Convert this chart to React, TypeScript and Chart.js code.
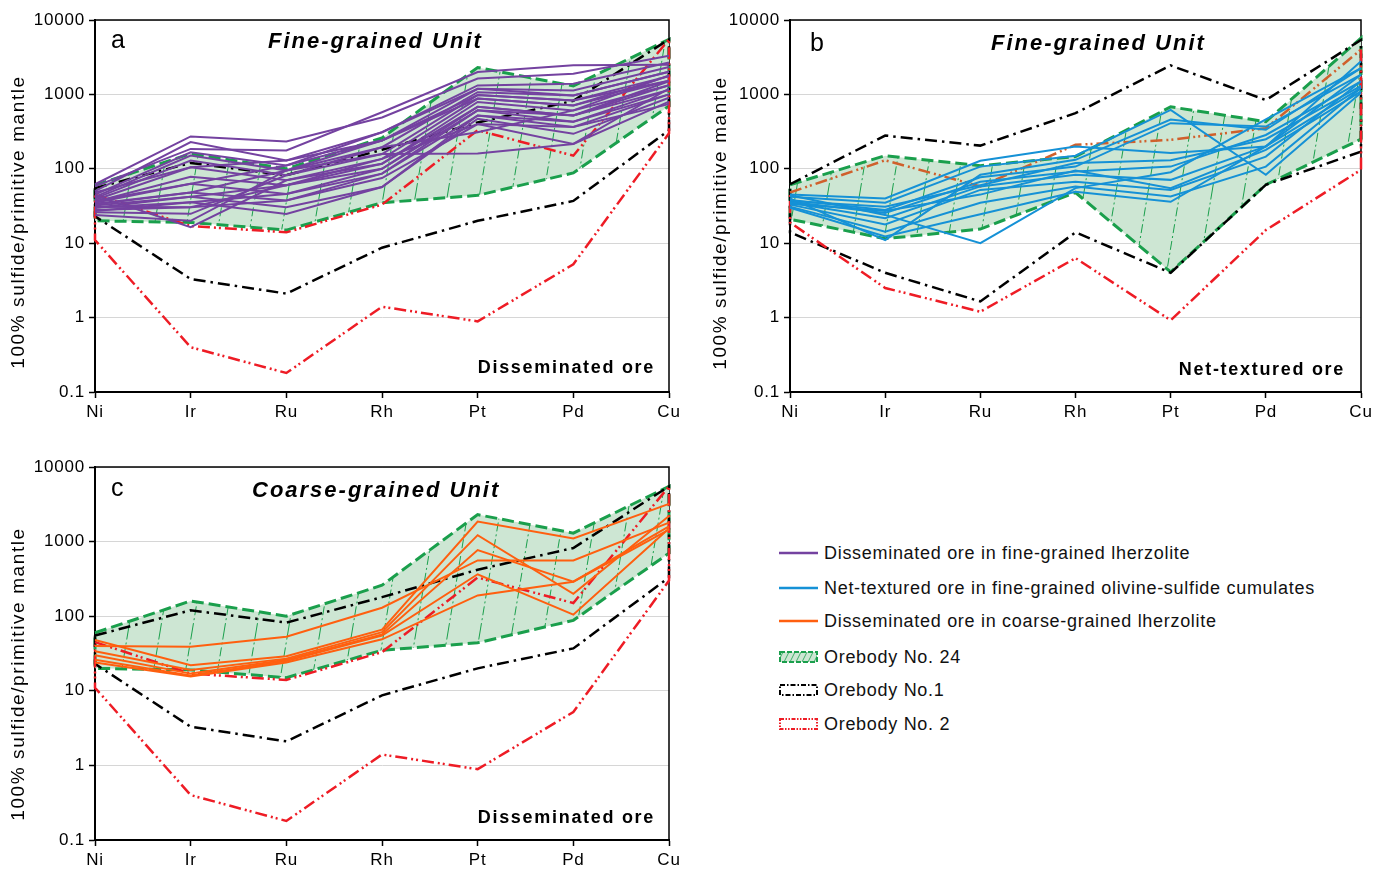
import React, { useEffect, useRef } from 'react';
import { Chart, registerables } from 'chart.js';

Chart.register(...registerables);

// ---------- data ----------
const elements = ['Ni', 'Ir', 'Ru', 'Rh', 'Pt', 'Pd', 'Cu'];
const yTickValues = [0.1, 1, 10, 100, 1000, 10000];
const yTickLabels = ['0.1', '1', '10', '100', '1000', '10000'];
const yAxisTitle = '100% sulfide/primitive mantle';

// Orebody fields used in panels a and c
const ob24Upper = [60, 160, 100, 260, 2300, 1300, 5500];
const ob24Lower = [20, 19, 15, 35, 44, 88, 700];
const ob1Upper = [55, 120, 82, 180, 420, 820, 5500];
const ob1Lower = [23, 3.3, 2.1, 8.7, 20, 37, 330];
const ob2Upper = [45, 17, 14, 33, 330, 150, 5500];
const ob2Lower = [11, 0.4, 0.18, 1.4, 0.89, 5.2, 300];

// Orebody fields used in panel b (net-textured ore)
const ob24NetUpper = [61, 150, 110, 146, 680, 430, 5700];
const ob24NetLower = [21, 11.5, 15.5, 48, 4.1, 61, 250];
const ob1NetUpper = [62, 280, 205, 560, 2450, 840, 5400];
const ob1NetLower = [14, 4.0, 1.65, 14, 4.0, 61, 170];
const ob2NetUpper = [48, 130, 58, 210, 245, 350, 4000];
const ob2NetLower = [19, 2.5, 1.2, 6.3, 0.92, 15, 97];

// Samples: disseminated ore in fine-grained lherzolite (panel a)
const fineDisseminated: number[][] = [
  [58, 185, 176, 575, 2000, 2460, 2500],
  [62, 272, 233, 490, 1630, 1900, 3300],
  [50, 229, 129, 310, 1320, 1390, 2680],
  [45, 167, 111, 240, 1190, 1130, 2330],
  [42, 151, 95, 195, 1070, 965, 2020],
  [40, 129, 82, 158, 980, 830, 1760],
  [38, 105, 70, 136, 880, 710, 1530],
  [36, 78, 60, 117, 790, 610, 1330],
  [35, 63, 46, 100, 680, 520, 1150],
  [33, 48, 37.5, 86, 610, 430, 1000],
  [32, 42, 30.5, 57, 520, 365, 740],
  [30, 35.5, 24.7, 57, 470, 295, 900],
  [28, 30.5, 60, 136, 400, 216, 1200],
  [26, 24.8, 82, 195, 310, 610, 1800],
  [24, 20, 95, 158, 160, 216, 800],
  [44, 16.4, 70, 117, 680, 520, 1500],
  [37, 63, 111, 310, 1190, 965, 2020],
  [34, 48, 95, 240, 880, 710, 1760],
  [30, 42, 60, 100, 610, 520, 1330],
  [27, 35.5, 46, 86, 520, 430, 1150],
  [48, 105, 129, 240, 980, 830, 1530],
  [31, 30.5, 37.5, 75, 400, 365, 1000],
];

// Samples: net-textured ore in fine-grained olivine-sulfide cumulates (panel b)
const netTextured: number[][] = [
  [45, 40, 128, 200, 163, 200, 2800],
  [42, 35, 107, 150, 620, 83, 1050],
  [40, 11, 83, 132, 460, 335, 2260],
  [38, 28, 77, 107, 410, 370, 1840],
  [36, 25.5, 67, 92, 107, 285, 1500],
  [35, 21.7, 58, 83, 71, 200, 1220],
  [33, 17.9, 52, 67, 52, 146, 1500],
  [31, 14.3, 35, 58, 42.5, 107, 1220],
  [30, 12.3, 24.5, 49, 36, 200, 1840],
  [44, 24, 10, 55, 90, 460, 2260],
  [37, 31, 60, 120, 130, 250, 1300],
  [34, 27, 45, 95, 55, 180, 1100],
];

// Samples: disseminated ore in coarse-grained lherzolite (panel c)
const coarseDisseminated: number[][] = [
  [40, 39, 53, 130, 560, 560, 1800],
  [48, 22, 29, 66, 1860, 1100, 3200],
  [34, 19, 27, 61, 1220, 200, 2200],
  [30, 17, 26, 57, 770, 290, 1600],
  [26, 16, 25, 55, 365, 105, 1500],
  [24, 15.5, 24, 49, 190, 290, 1450],
];

// ---------- styles ----------
const FONT = "'Liberation Sans', Arial, sans-serif";
const PURPLE = '#7442a0';
const BLUE = '#1591d6';
const ORANGE = '#ff5f0f';
const GREEN = '#1a9f4c';
const RED = '#ee1c25';
const BROWN = '#d0602c';
const FILL = '#cde6d3';

function makeHatch(): CanvasPattern | string {
  const c = document.createElement('canvas');
  c.width = 32;
  c.height = 192;
  const g = c.getContext('2d');
  if (!g) return FILL;
  g.fillStyle = FILL;
  g.fillRect(0, 0, 32, 192);
  g.strokeStyle = GREEN;
  g.lineWidth = 1;
  g.setLineDash([9, 3, 2, 3]);
  for (const off of [-32, 0, 32]) {
    g.beginPath();
    g.moveTo(off, 192);
    g.lineTo(off + 32, 0);
    g.stroke();
  }
  return g.createPattern(c, 'repeat') || FILL;
}

type Env = {
  u24: number[]; l24: number[];
  u1: number[]; l1: number[];
  u2: number[]; l2: number[];
};

type PanelProps = {
  left: number; top: number; width: number; height: number;
  area: { l: number; t: number; r: number; b: number };
  samples: number[][];
  sampleLabel: string;
  color: string;
  env: Env;
  ob2UpperColor: string;
  letter: string; letterPos: [number, number];
  title: string; titlePos: [number, number];
  note: string; notePos: [number, number];
  yTitlePos: [number, number];
};

const poly = (u: number[], l: number[]) => [
  ...u.map((y, i) => ({ x: elements[i], y })),
  ...l.map((y, i) => ({ x: elements[i], y })).reverse(),
  { x: elements[0], y: u[0] },
];

function drawSpaced(ctx: CanvasRenderingContext2D, text: string, x: number, y: number, font: string, align: CanvasTextAlign, spacing: number, rotate = 0) {
  ctx.save();
  ctx.font = font;
  (ctx as any).letterSpacing = spacing + 'px';
  ctx.fillStyle = '#000';
  ctx.textAlign = align;
  ctx.textBaseline = 'middle';
  ctx.translate(x, y);
  if (rotate) ctx.rotate(rotate);
  ctx.fillText(text, 0, 0);
  ctx.restore();
}

function Panel(p: PanelProps) {
  const ref = useRef<HTMLCanvasElement>(null);
  useEffect(() => {
    if (!ref.current) return;
    const pattern = makeHatch();
    const padTop = p.area.t - p.top;
    const padRight = p.left + p.width - p.area.r;
    const yW = p.area.l - p.left;
    const xH = p.top + p.height - p.area.b;
    const ox = p.left;
    const oy = p.top;

    const base: any = {
      pointRadius: 0, pointHoverRadius: 0, tension: 0, clip: 8, fill: false,
      borderCapStyle: 'butt', borderJoinStyle: 'miter',
    };

    const datasets: any[] = [
      { ...base, label: 'field fill', data: p.env.u24, borderWidth: 0, borderColor: 'rgba(0,0,0,0)', backgroundColor: pattern, fill: '+1', order: 6 },
      { ...base, label: 'field fill lower', data: p.env.l24, borderWidth: 0, borderColor: 'rgba(0,0,0,0)', order: 6 },
      { ...base, label: 'Orebody No. 24', data: poly(p.env.u24, p.env.l24), borderColor: GREEN, borderWidth: 3, borderDash: [12, 5], order: 5 },
      { ...base, label: 'Orebody No.1', data: poly(p.env.u1, p.env.l1), borderColor: '#000', borderWidth: 2.5, borderDash: [12, 5, 2.5, 5], order: 4 },
      {
        ...base, label: 'Orebody No. 2', data: poly(p.env.u2, p.env.l2), borderColor: RED, borderWidth: 2.5,
        borderDash: [12, 4, 2, 3, 2, 4], order: 3,
        segment: { borderColor: (c: any) => (c.p0DataIndex < 6 ? p.ob2UpperColor : RED) },
      },
      ...p.samples.map((s, i) => ({ ...base, label: p.sampleLabel + ' ' + (i + 1), data: s, borderColor: p.color, borderWidth: 2, order: 1 })),
    ];

    const decor = {
      id: 'decor',
      beforeDraw(chart: any) {
        chart.ctx.letterSpacing = '0.8px';
      },
      beforeDatasetsDraw(chart: any) {
        const { ctx, chartArea: a } = chart;
        ctx.save();
        ctx.strokeStyle = '#000';
        ctx.lineWidth = 1.5;
        ctx.beginPath();
        ctx.moveTo(a.left, a.top);
        ctx.lineTo(a.right, a.top);
        ctx.lineTo(a.right, a.bottom);
        ctx.stroke();
        ctx.restore();
      },
      afterDraw(chart: any) {
        const ctx = chart.ctx;
        drawSpaced(ctx, p.letter, p.letterPos[0] - ox, p.letterPos[1] - oy, `25px ${FONT}`, 'left', 0);
        drawSpaced(ctx, p.title, p.titlePos[0] - ox, p.titlePos[1] - oy, `italic bold 22px ${FONT}`, 'left', 2.0);
        drawSpaced(ctx, p.note, p.notePos[0] - ox, p.notePos[1] - oy, `bold 18px ${FONT}`, 'right', 1.7);
        drawSpaced(ctx, yAxisTitle, p.yTitlePos[0] - ox, p.yTitlePos[1] - oy, `19px ${FONT}`, 'center', 1.6, -Math.PI / 2);
      },
    };

    const chart = new Chart(ref.current, {
      type: 'line',
      data: { labels: elements, datasets },
      options: {
        animation: false,
        responsive: false,
        maintainAspectRatio: false,
        events: [],
        layout: { padding: { top: padTop, right: padRight, left: 0, bottom: 0 } },
        plugins: { legend: { display: false }, tooltip: { enabled: false }, title: { display: false } },
        scales: {
          x: {
            type: 'category',
            offset: false,
            grid: { display: true, drawOnChartArea: false, drawTicks: true, tickLength: 6, tickColor: '#000', tickWidth: 1.5 },
            border: { display: true, color: '#000', width: 2 },
            ticks: { color: '#000', font: { family: FONT, size: 17 }, padding: 4, maxRotation: 0, autoSkip: false },
            afterFit: (s: any) => { s.height = xH; },
          },
          y: {
            type: 'logarithmic',
            min: 0.1,
            max: 10000,
            afterBuildTicks: (s: any) => { s.ticks = yTickValues.map((v) => ({ value: v })); },
            grid: { color: '#d6d6d6', lineWidth: 1, tickColor: '#000', tickLength: 6, tickWidth: 1.5 },
            border: { display: true, color: '#000', width: 2 },
            ticks: {
              color: '#000', font: { family: FONT, size: 17 }, padding: 4, autoSkip: false,
              callback: (_v: any, i: number) => yTickLabels[i],
            },
            afterFit: (s: any) => { s.width = yW; },
          },
        },
      } as any,
      plugins: [decor],
    });
    return () => chart.destroy();
  }, []);
  return (
    <canvas
      ref={ref}
      width={p.width}
      height={p.height}
      style={{ position: 'absolute', left: p.left, top: p.top, width: p.width, height: p.height }}
    />
  );
}

const legendItems = [
  { label: 'Disseminated ore in fine-grained lherzolite', kind: 'line', color: PURPLE },
  { label: 'Net-textured ore in fine-grained olivine-sulfide cumulates', kind: 'line', color: BLUE },
  { label: 'Disseminated ore in coarse-grained lherzolite', kind: 'line', color: ORANGE },
  { label: 'Orebody No. 24', kind: 'ob24', color: GREEN },
  { label: 'Orebody No.1', kind: 'ob1', color: '#000' },
  { label: 'Orebody No. 2', kind: 'ob2', color: RED },
];
const legendRowCenters = [553, 588, 621, 657, 690, 724];

function Swatch({ kind, color }: { kind: string; color: string }) {
  if (kind === 'line') {
    return (
      <svg width={42} height={14} style={{ display: 'block' }}>
        <line x1={1} x2={40} y1={7} y2={7} stroke={color} strokeWidth={2.5} />
      </svg>
    );
  }
  const dash = kind === 'ob24' ? '5,2' : kind === 'ob1' ? '5,2,1.5,2' : '4,1.5,1.5,1.5,1.5,1.5';
  return (
    <svg width={42} height={14} style={{ display: 'block' }}>
      <defs>
        <pattern id="legHatch" width="6" height="12" patternUnits="userSpaceOnUse">
          <rect width="6" height="12" fill={FILL} />
          <line x1="0" y1="12" x2="6" y2="0" stroke={GREEN} strokeWidth="0.8" />
        </pattern>
      </defs>
      <rect x={2} y={2} width={37} height={10} fill={kind === 'ob24' ? 'url(#legHatch)' : '#fff'} stroke={color} strokeWidth={2} strokeDasharray={dash} />
    </svg>
  );
}

function Legend() {
  return (
    <>
      {legendItems.map((it, i) => (
        <div
          key={it.label}
          style={{
            position: 'absolute', left: 778, top: legendRowCenters[i] - 12, height: 24,
            display: 'flex', alignItems: 'center', whiteSpace: 'nowrap',
            fontFamily: FONT, fontSize: 18, letterSpacing: '0.7px', color: '#111',
          }}
        >
          <Swatch kind={it.kind} color={it.color} />
          <span style={{ marginLeft: 4 }}>{it.label}</span>
        </div>
      ))}
    </>
  );
}

const envA: Env = { u24: ob24Upper, l24: ob24Lower, u1: ob1Upper, l1: ob1Lower, u2: ob2Upper, l2: ob2Lower };
const envB: Env = { u24: ob24NetUpper, l24: ob24NetLower, u1: ob1NetUpper, l1: ob1NetLower, u2: ob2NetUpper, l2: ob2NetLower };

export default function App() {
  return (
    <div style={{ position: 'absolute', left: 0, top: 0, width: 1387, height: 870, background: '#fff', overflow: 'hidden' }}>
      <Panel
        left={0} top={0} width={700} height={432}
        area={{ l: 95, t: 20, r: 669, b: 392 }}
        samples={fineDisseminated} sampleLabel="Disseminated ore in fine-grained lherzolite" color={PURPLE}
        env={envA} ob2UpperColor={RED}
        letter="a" letterPos={[111, 41]}
        title="Fine-grained Unit" titlePos={[268, 42]}
        note="Disseminated ore" notePos={[655, 368]}
        yTitlePos={[19, 222]}
      />
      <Panel
        left={700} top={0} width={687} height={432}
        area={{ l: 790, t: 20, r: 1361, b: 392 }}
        samples={netTextured} sampleLabel="Net-textured ore in fine-grained olivine-sulfide cumulates" color={BLUE}
        env={envB} ob2UpperColor={BROWN}
        letter="b" letterPos={[810, 44]}
        title="Fine-grained Unit" titlePos={[991, 44]}
        note="Net-textured ore" notePos={[1345, 370]}
        yTitlePos={[721, 223]}
      />
      <Panel
        left={0} top={440} width={700} height={430}
        area={{ l: 95, t: 467, r: 669, b: 840 }}
        samples={coarseDisseminated} sampleLabel="Disseminated ore in coarse-grained lherzolite" color={ORANGE}
        env={envA} ob2UpperColor={RED}
        letter="c" letterPos={[111, 489]}
        title="Coarse-grained Unit" titlePos={[252, 491]}
        note="Disseminated ore" notePos={[655, 818]}
        yTitlePos={[19, 674]}
      />
      <Legend />
    </div>
  );
}
